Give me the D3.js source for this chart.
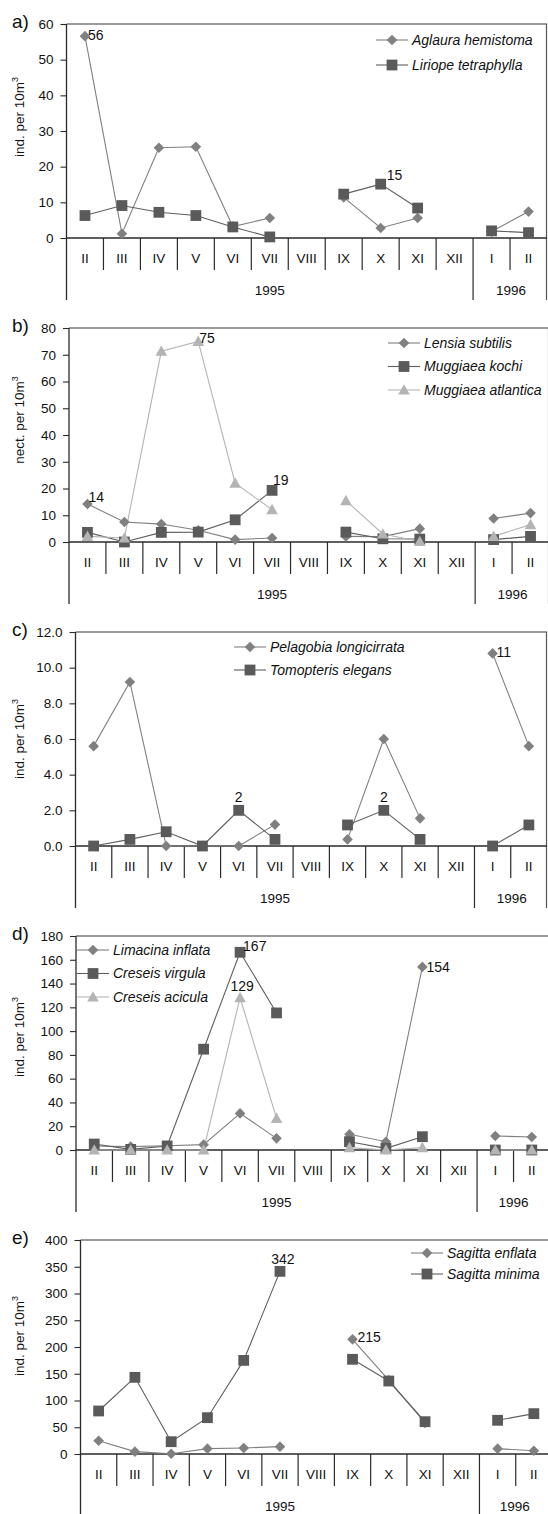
<!DOCTYPE html>
<html><head><meta charset="utf-8">
<script src="https://cdn.jsdelivr.net/npm/d3@7"></script>
<style>
body{margin:0;background:#fff}
svg{display:block}
text{font-family:"Liberation Sans",Arial,sans-serif;fill:#111}
</style>
</head><body><svg id="chart" width="548" height="1514"></svg>
<script>
// ---------- DATA ----------
const months = ["II","III","IV","V","VI","VII","VIII","IX","X","XI","XII","I","II"];
const years = ["1995","1996"];
const yearSpans = [11, 2];

// a) Hydromedusae
const aTicks = [0,10,20,30,40,50,60];
const aglauraHemistoma   = [56.6,1.2,25.3,25.6,3.2,5.6,null,11.4,2.8,5.6,null,1.8,7.4];
const liriopeTetraphylla = [6.3,9.1,7.2,6.3,3.1,0.3,null,12.3,15.1,8.4,null,2.0,1.5];
const aLabels = [{s:0,i:0,text:"56"},{s:1,i:8,text:"15"}];

// b) Siphonophora
const bTicks = [0,10,20,30,40,50,60,70,80];
const lensiaSubtilis    = [14.2,7.5,6.7,4.4,0.9,1.5,null,2.1,2.0,5.0,null,8.8,10.8];
const muggiaeaKochi     = [3.6,0.0,3.6,3.7,8.3,19.3,null,3.7,1.2,1.1,null,0.9,2.1];
const muggiaeaAtlantica = [2.1,1.5,71.3,75.0,22.0,12.1,null,15.5,3.0,0.2,null,2.1,6.5];
const bLabels = [{s:0,i:0,text:"14"},{s:2,i:3,text:"75"},{s:1,i:5,text:"19"}];

// c) Polychaeta
const cTicks = [0,2,4,6,8,10,12];
const pelagobiaLongicirrata = [5.6,9.2,0.0,0.0,0.0,1.2,null,0.37,6.0,1.55,null,10.8,5.6];
const tomopterisElegans     = [0.0,0.37,0.8,0.0,2.0,0.37,null,1.18,2.0,0.37,null,0.0,1.18];
const cLabels = [{s:1,i:4,text:"2"},{s:1,i:8,text:"2"},{s:0,i:11,text:"11"}];

// d) Pteropoda
const dTicks = [0,20,40,60,80,100,120,140,160,180];
const limacinaInflata = [3.4,2.8,3.6,4.5,30.8,9.8,null,13.2,7.0,154.0,null,11.8,10.9];
const creseisVirgula  = [5.0,0.5,3.4,84.8,166.3,115.3,null,7.0,1.4,11.2,null,0.0,0.0];
const creseisAcicula  = [0.0,0.0,0.0,0.0,128.2,26.6,null,2.0,0.0,2.0,null,0.0,0.0];
const dLabels = [{s:1,i:4,text:"167"},{s:2,i:4,text:"129"},{s:0,i:9,text:"154"}];

// e) Chaetognatha
const eTicks = [0,50,100,150,200,250,300,350,400];
const sagittaEnflata = [24.9,4.4,0.6,10.0,11.2,13.7,null,214.3,138.0,58.0,null,10.0,6.2];
const sagittaMinima  = [80.4,143.3,23.0,67.9,175.0,341.4,null,177.0,136.4,60.4,null,63.0,75.4];
const eLabels = [{s:1,i:5,text:"342"},{s:0,i:7,text:"215"}];

// ---------- STYLE / LAYOUT ----------
const shapeStyle = {
  diamond:  {fill:"#808080", line:"#808080"},
  square:   {fill:"#5a5a5a", line:"#5e5e5e"},
  triangle: {fill:"#b4b4b4", line:"#b4b4b4"}
};
function markerPath(shape){
  if(shape==="diamond") return "M0,-5.3L5.3,0L0,5.3L-5.3,0Z";
  if(shape==="square") return "M-5.4,-5.4H5.4V5.4H-5.4Z";
  return "M0,-5.8L5.8,4.6H-5.8Z";
}

const panels = [
  {letter:"a)", title:"ind. per 10m", domain:[0,60], ticks:aTicks, fmt:d3.format("d"),
   series:[{name:"Aglaura hemistoma",values:aglauraHemistoma,shape:"diamond"},
           {name:"Liriope tetraphylla",values:liriopeTetraphylla,shape:"square"}],
   labels:aLabels,
   box:{left:66.5,right:547,top:24,zero:238,bottomExtra:62}, titleDy:-14,
   legend:{x:376,y:40,step:25},
   labelPos:[{dx:3,dy:-1,anchor:"start"},{dx:6,dy:-9,anchor:"start"}]},
  {letter:"b)", title:"nect. per 10m", domain:[0,80], ticks:bTicks, fmt:d3.format("d"),
   series:[{name:"Lensia subtilis",values:lensiaSubtilis,shape:"diamond"},
           {name:"Muggiaea kochi",values:muggiaeaKochi,shape:"square"},
           {name:"Muggiaea atlantica",values:muggiaeaAtlantica,shape:"triangle"}],
   labels:bLabels,
   box:{left:69,right:549,top:328,zero:542,bottomExtra:62}, titleDy:-15,
   legend:{x:388,y:343,step:23.5},
   labelPos:[{dx:1,dy:-7,anchor:"start"},{dx:1,dy:-3,anchor:"start"},{dx:1,dy:-10,anchor:"start"}]},
  {letter:"c)", title:"ind. per 10m", domain:[0,12], ticks:cTicks, fmt:d3.format(".1f"),
   series:[{name:"Pelagobia longicirrata",values:pelagobiaLongicirrata,shape:"diamond"},
           {name:"Tomopteris elegans",values:tomopterisElegans,shape:"square"}],
   labels:cLabels,
   box:{left:75.5,right:547,top:632,zero:846,bottomExtra:62}, titleDy:0,
   legend:{x:234,y:647,step:23},
   labelPos:[{dx:0,dy:-13,anchor:"middle"},{dx:0,dy:-13,anchor:"middle"},{dx:4,dy:-1,anchor:"start"}]},
  {letter:"d)", title:"ind. per 10m", domain:[0,180], ticks:dTicks, fmt:d3.format("d"),
   series:[{name:"Limacina inflata",values:limacinaInflata,shape:"diamond"},
           {name:"Creseis virgula",values:creseisVirgula,shape:"square"},
           {name:"Creseis acicula",values:creseisAcicula,shape:"triangle"}],
   labels:dLabels,
   box:{left:76,right:550,top:936,zero:1150,bottomExtra:62}, titleDy:-6,
   legend:{x:77,y:950,step:23.5},
   labelPos:[{dx:3,dy:-6,anchor:"start"},{dx:2,dy:-11,anchor:"middle"},{dx:4,dy:0,anchor:"start"}]},
  {letter:"e)", title:"ind. per 10m", domain:[0,400], ticks:eTicks, fmt:d3.format("d"),
   series:[{name:"Sagitta enflata",values:sagittaEnflata,shape:"diamond"},
           {name:"Sagitta minima",values:sagittaMinima,shape:"square"}],
   labels:eLabels,
   box:{left:80.5,right:552,top:1240,zero:1454,bottomExtra:62}, titleDy:-11,
   legend:{x:411,y:1253,step:21},
   labelPos:[{dx:3,dy:-12,anchor:"middle"},{dx:5,dy:-2,anchor:"start"}]}
];

const svg = d3.select("#chart");
const axisColor = "#2a2a2a";

panels.forEach(p => {
  const b = p.box;
  const g = svg.append("g");
  const x = d3.scaleBand().domain(d3.range(months.length)).range([b.left, b.right]).paddingInner(0).paddingOuter(0);
  const y = d3.scaleLinear().domain(p.domain).range([b.zero, b.top]);
  const cx = i => x(i) + x.bandwidth()/2;
  const catBottom = b.zero + 32;
  const yearBottom = b.zero + b.bottomExtra;

  // top and right border
  g.append("line").attr("x1",b.left).attr("x2",b.right).attr("y1",b.top).attr("y2",b.top)
    .attr("stroke","#7a7a7a").attr("stroke-width",1.3);
  g.append("line").attr("x1",b.right-0.5).attr("x2",b.right-0.5).attr("y1",b.top).attr("y2",yearBottom)
    .attr("stroke","#555").attr("stroke-width",1.2);

  // y axis
  const ax = g.append("g").attr("transform",`translate(${b.left},0)`)
    .call(d3.axisLeft(y).tickValues(p.ticks).tickSize(6).tickPadding(7).tickFormat(p.fmt));
  ax.select(".domain").remove();
  ax.selectAll(".tick line").attr("stroke",axisColor).attr("stroke-width",1.1);
  ax.selectAll(".tick text").style("font-size","13.5px").attr("fill","#111")
    .style("font-family","'Liberation Sans',Arial,sans-serif");

  // left axis line extends through category & year rows
  g.append("line").attr("x1",b.left).attr("x2",b.left).attr("y1",b.top).attr("y2",yearBottom)
    .attr("stroke",axisColor).attr("stroke-width",1.3);
  // zero line
  g.append("line").attr("x1",b.left).attr("x2",b.right).attr("y1",b.zero).attr("y2",b.zero)
    .attr("stroke",axisColor).attr("stroke-width",1.3);

  // category dividers
  let yearStarts = [0]; yearSpans.forEach((s,k)=> yearStarts.push(yearStarts[k]+s));
  d3.range(1, months.length).forEach(i => {
    const isYear = yearStarts.includes(i);
    g.append("line").attr("x1",x(i)).attr("x2",x(i)).attr("y1",b.zero)
      .attr("y2", isYear ? yearBottom : catBottom)
      .attr("stroke",axisColor).attr("stroke-width",1.2);
  });
  // category labels
  g.selectAll(".cat").data(months).enter().append("text")
    .attr("x",(d,i)=>cx(i)).attr("y",b.zero+25).attr("text-anchor","middle")
    .style("font-size","13.5px").text(d=>d);
  // year labels
  years.forEach((yl,k) => {
    const x0 = x(yearStarts[k]);
    const x1 = yearStarts[k+1] < months.length ? x(yearStarts[k+1]) : b.right;
    const xm = k===years.length-1 ? (x0 + Math.min(x1,548))/2 + 1 : (x0+x1)/2;
    g.append("text").attr("x",xm).attr("y",b.zero+57).attr("text-anchor","middle")
      .style("font-size","13.5px").text(yl);
  });

  // panel letter
  g.append("text").attr("x",12).attr("y",b.top+4).style("font-size","19px").text(p.letter);

  // y title
  const ty = (b.top+b.zero)/2 + p.titleDy;
  const t = g.append("text").attr("transform",`translate(19,${ty}) rotate(-90)`)
    .attr("text-anchor","middle").attr("dominant-baseline","central").style("font-size","13.5px");
  t.append("tspan").text(p.title);
  t.append("tspan").attr("dy","-0.45em").style("font-size","9px").text("3");

  // series
  p.series.forEach(s => {
    const st = shapeStyle[s.shape];
    const line = d3.line().defined(d=>d!=null).x((d,i)=>cx(i)).y(d=>y(d));
    g.append("path").attr("d",line(s.values)).attr("fill","none")
      .attr("stroke",st.line).attr("stroke-width",1.1);
  });
  p.series.forEach(s => {
    const st = shapeStyle[s.shape];
    g.selectAll(null).data(s.values.map((v,i)=>({v,i})).filter(d=>d.v!=null)).enter()
      .append("path").attr("d",markerPath(s.shape))
      .attr("transform",d=>`translate(${cx(d.i)},${y(d.v)})`).attr("fill",st.fill);
  });

  // data labels
  p.labels.forEach((l,k) => {
    const pos = p.labelPos[k];
    const v = p.series[l.s].values[l.i];
    g.append("text").attr("x",cx(l.i)+pos.dx).attr("y",y(v)+pos.dy)
      .attr("dy","0.35em").attr("text-anchor",pos.anchor).style("font-size","14px").text(l.text);
  });

  // legend
  p.series.forEach((s,k) => {
    const st = shapeStyle[s.shape];
    const ly = p.legend.y + k*p.legend.step;
    const lx = p.legend.x;
    g.append("line").attr("x1",lx).attr("x2",lx+32).attr("y1",ly).attr("y2",ly)
      .attr("stroke",st.line).attr("stroke-width",1.1);
    g.append("path").attr("d",markerPath(s.shape)).attr("transform",`translate(${lx+16},${ly})`).attr("fill",st.fill);
    g.append("text").attr("x",lx+36).attr("y",ly).attr("dy","0.35em")
      .style("font-size","14px").style("font-style","italic").text(s.name);
  });
});
</script>
</body></html>
